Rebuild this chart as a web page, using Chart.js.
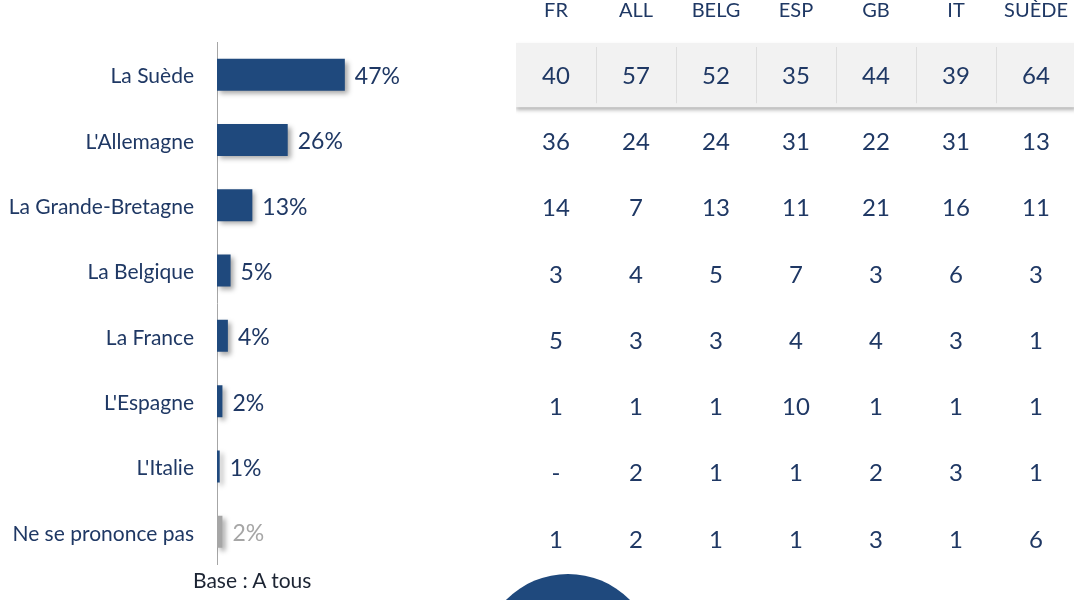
<!DOCTYPE html>
<html lang="fr">
<head>
<meta charset="UTF-8">
<title>Pays</title>
<style>
    html, body { margin: 0; padding: 0; background: #fff; overflow: hidden; }
    body { width: 1074px; height: 600px; position: relative; font-family: Lato, sans-serif; }
    #barChart { position: absolute; left: 0; top: 0; }
    #tableChart { position: absolute; left: 516px; top: 0; }
    #base { position: absolute; left: 193px; top: 567px; font-size: 21px; color: #1c2433; }
    #circle { position: absolute; left: 481px; top: 574px; width: 174px; height: 174px; border-radius: 50%; background: #1f497d; }
</style>
<script src="https://cdn.jsdelivr.net/npm/chart.js"></script>
</head>
<body>

<canvas id="barChart" width="489" height="600"></canvas>
<canvas id="tableChart" width="560" height="600"></canvas>
<div id="base">Base : A tous</div>
<div id="circle"></div>

<script>
    // left bar chart
    const countries = ['La Suède', "L'Allemagne", 'La Grande-Bretagne', 'La Belgique', 'La France', "L'Espagne", "L'Italie", 'Ne se prononce pas'];
    const totals = [47, 26, 13, 5, 4, 2, 1, 2];

    // table on the right, one array per column (null = "-")
    const columns = ['FR', 'ALL', 'BELG', 'ESP', 'GB', 'IT', 'SUÈDE'];
    const fr    = [40, 36, 14, 3, 5, 1, null, 1];
    const all   = [57, 24, 7, 4, 3, 1, 2, 2];
    const belg  = [52, 24, 13, 5, 3, 1, 1, 1];
    const esp   = [35, 31, 11, 7, 4, 10, 1, 1];
    const gb    = [44, 22, 21, 3, 4, 1, 2, 3];
    const it    = [39, 31, 16, 6, 3, 1, 3, 1];
    const suede = [64, 13, 11, 3, 1, 1, 1, 6];
    const tableData = [fr, all, belg, esp, gb, it, suede];

    const navy = '#1f497d';
    const textNavy = '#1f3864';
    const grey = '#a6a6a6';

    const barColors = countries.map((c, i) => i === countries.length - 1 ? grey : navy);

    const shadowPlugin = {
        id: 'shadow',
        beforeDatasetsDraw(chart) {
            const ctx = chart.ctx;
            ctx.save();
            ctx.shadowColor = 'rgba(0,0,0,0.35)';
            ctx.shadowBlur = 5;
            ctx.shadowOffsetX = 3;
            ctx.shadowOffsetY = 3;
        },
        afterDatasetsDraw(chart) {
            chart.ctx.restore();
        }
    };

    const valueLabels = {
        id: 'valueLabels',
        afterDatasetsDraw(chart) {
            const ctx = chart.ctx;
            const meta = chart.getDatasetMeta(0);
            ctx.save();
            ctx.font = '23px Lato';
            ctx.textBaseline = 'middle';
            ctx.textAlign = 'left';
            meta.data.forEach((bar, i) => {
                ctx.fillStyle = i === totals.length - 1 ? grey : textNavy;
                ctx.fillText(totals[i] + '%', bar.x + 10, bar.y + 2);
            });
            ctx.restore();
        }
    };

    new Chart(document.getElementById('barChart'), {
        type: 'bar',
        data: {
            labels: countries,
            datasets: [{
                data: totals,
                backgroundColor: barColors,
                categoryPercentage: 1,
                barPercentage: 0.49
            }]
        },
        options: {
            indexAxis: 'y',
            responsive: false,
            animation: false,
            layout: { padding: { top: 42, bottom: 28, right: 0, left: 0 } },
            plugins: { legend: { display: false }, tooltip: { enabled: false } },
            scales: {
                x: { display: false, min: 0, max: 100 },
                y: {
                    grid: { display: false, drawTicks: false },
                    border: { display: true, color: '#a6a6a6', width: 1 },
                    ticks: { color: textNavy, font: { family: 'Lato', size: 21 }, padding: 23, labelOffset: 2, autoSkip: false },
                    afterFit(scale) { scale.width = 217; }
                }
            }
        },
        plugins: [shadowPlugin, valueLabels]
    });

    // table drawn on its own category scales
    const tablePlugin = {
        id: 'tableCells',
        beforeDatasetsDraw(chart) {
            const { ctx, chartArea, scales: { x, y } } = chart;
            const half = (y.getPixelForValue(1) - y.getPixelForValue(0)) / 2 - 1;
            const top = y.getPixelForValue(0) - half;
            ctx.save();
            ctx.shadowColor = 'rgba(0,0,0,0.3)';
            ctx.shadowBlur = 4;
            ctx.shadowOffsetY = 3;
            ctx.fillStyle = '#f2f2f2';
            ctx.fillRect(chartArea.left, top, chartArea.right - chartArea.left, half * 2);
            ctx.restore();

            ctx.save();
            ctx.strokeStyle = '#dedede';
            ctx.lineWidth = 1;
            for (let i = 0; i < columns.length - 1; i++) {
                const sx = Math.round((x.getPixelForValue(i) + x.getPixelForValue(i + 1)) / 2) + 0.5;
                ctx.beginPath();
                ctx.moveTo(sx, top + 4);
                ctx.lineTo(sx, top + half * 2 - 4);
                ctx.stroke();
            }
            ctx.restore();

            ctx.save();
            ctx.font = '24px Lato';
            ctx.fillStyle = textNavy;
            ctx.textAlign = 'center';
            ctx.textBaseline = 'middle';
            tableData.forEach((col, ci) => {
                col.forEach((v, ri) => {
                    ctx.fillText(v === null ? '-' : String(v), x.getPixelForValue(ci), y.getPixelForValue(ri) + 1);
                });
            });
            ctx.restore();
        }
    };

    new Chart(document.getElementById('tableChart'), {
        type: 'bar',
        data: { labels: columns, datasets: [{ data: [] }] },
        options: {
            responsive: false,
            animation: false,
            layout: { padding: { top: 0, bottom: 28, right: 0, left: 0 } },
            plugins: { legend: { display: false }, tooltip: { enabled: false } },
            scales: {
                x: {
                    display: true,
                    position: 'top',
                    grid: { display: false, drawTicks: false },
                    border: { display: false },
                    ticks: { color: textNavy, font: { family: 'Lato', size: 20 }, padding: 19, maxRotation: 0 },
                    afterFit(scale) {
                        scale.height = 42;
                        scale.paddingLeft = 0;
                        scale.paddingRight = 0;
                    }
                },
                y: {
                    type: 'category',
                    labels: countries,
                    offset: true,
                    display: false
                }
            }
        },
        plugins: [tablePlugin]
    });
</script>

</body>
</html>
